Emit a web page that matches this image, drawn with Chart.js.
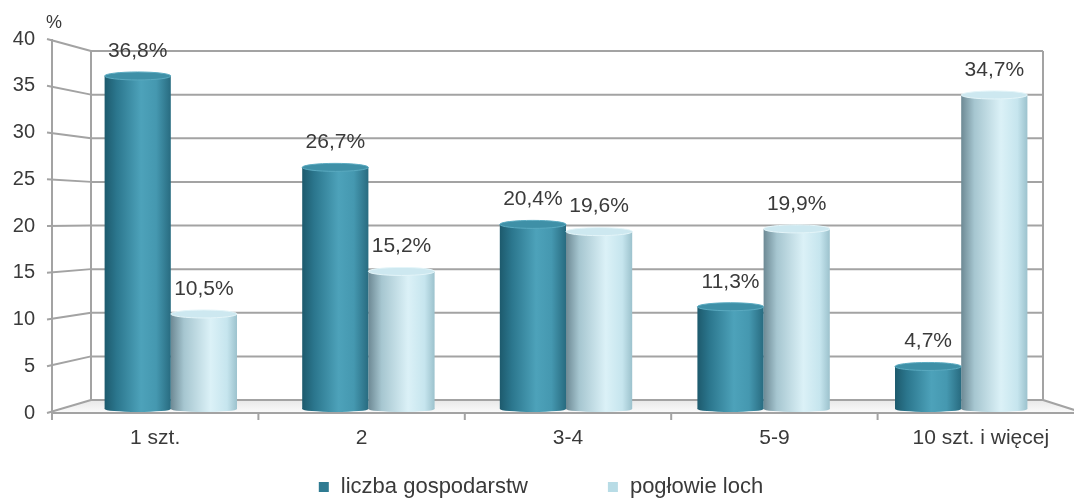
<!DOCTYPE html>
<html>
<head>
<meta charset="utf-8">
<script src="https://cdn.jsdelivr.net/npm/chart.js@4.4.0/dist/chart.umd.min.js"></script>
<style>
  html, body { margin: 0; padding: 0; background: #fff; }
  #wrap { width: 1074px; height: 498px; }
</style>
</head>
<body>
<div id="wrap"><canvas id="myChart"></canvas></div>
<script>
"use strict";

// data
const categories = ["1 szt.", "2", "3-4", "5-9", "10 szt. i więcej"];
const seriesNames = ["liczba gospodarstw", "pogłowie loch"];
const farms = [36.8, 26.7, 20.4, 11.3, 4.7];
const sows = [10.5, 15.2, 19.6, 19.9, 34.7];
const yTicks = [0, 5, 10, 15, 20, 25, 30, 35, 40];

const FONT = "'Liberation Sans', Arial, sans-serif";
const TEXT = "#3a3a3a";
const GRID = "#a3a3a3";
const CAT_PCT = 0.67;

// fake 3d: back wall and front edge as planes around the bar plane
const backPlane = { left: 91, right: 1043, top: 51, bottom: 400 };
const frontPlane = { left: 52, right: 1084, top: 39, bottom: 413 };

const darkStops = [[0, "#1d5a6d"], [0.18, "#2b768d"], [0.55, "#4da2ba"], [0.78, "#4598b0"], [1, "#286b80"]];
const lightStops = [[0, "#6d8994"], [0.2, "#a6c6d0"], [0.6, "#dbf1f7"], [0.85, "#c6e5ee"], [1, "#9cc2cd"]];
const capColors = ["#3f90a7", "#cde8f0"];
const legendColors = ["#2f7b92", "#b8dce6"];

function project(plane, a, px, py) {
  return [
    plane.left + (px - a.left) / a.width * (plane.right - plane.left),
    plane.bottom + (py - a.bottom) / a.height * (plane.bottom - plane.top)
  ];
}

function cylinder(stops) {
  return (c) => {
    const chart = c.chart;
    const a = chart.chartArea;
    if (!a || c.type !== "data" || !chart.scales.x) return stops[2][1];
    const barW = a.width / categories.length * CAT_PCT / 2;
    const center = chart.scales.x.getPixelForValue(c.dataIndex);
    const left = center - barW + c.datasetIndex * barW;
    const g = chart.ctx.createLinearGradient(left, 0, left + barW, 0);
    stops.forEach(([o, col]) => g.addColorStop(o, col));
    return g;
  };
}

function line(ctx, p, q) {
  ctx.beginPath();
  ctx.moveTo(p[0], p[1]);
  ctx.lineTo(q[0], q[1]);
  ctx.stroke();
}

const frame3d = {
  id: "frame3d",
  beforeDatasetsDraw(chart) {
    const { ctx, chartArea: a, scales: { y } } = chart;
    const B = (px, py) => project(backPlane, a, px, py);
    const F = (px, py) => project(frontPlane, a, px, py);
    ctx.save();

    // floor
    const bl = B(a.left, a.bottom), br = B(a.right, a.bottom);
    const fl = F(a.left, a.bottom), fr = F(a.right, a.bottom);
    const g = ctx.createLinearGradient(0, bl[1], 0, fl[1]);
    g.addColorStop(0, "#e8e8e8");
    g.addColorStop(1, "#fbfbfb");
    ctx.fillStyle = g;
    ctx.beginPath();
    ctx.moveTo(bl[0], bl[1]);
    ctx.lineTo(br[0], br[1]);
    ctx.lineTo(fr[0], fr[1]);
    ctx.lineTo(fl[0], fl[1]);
    ctx.closePath();
    ctx.fill();

    ctx.strokeStyle = GRID;
    ctx.lineWidth = 2;
    yTicks.forEach((v) => {
      const py = y.getPixelForValue(v);
      const f0 = F(a.left, py);
      line(ctx, [f0[0] - 5, f0[1]], B(a.left, py));
      line(ctx, B(a.left, py), B(a.right, py));
    });
    line(ctx, B(a.left, a.top), B(a.left, a.bottom));
    line(ctx, B(a.right, a.top), B(a.right, a.bottom));
    const ft = F(a.left, a.top);
    line(ctx, ft, [fl[0], fl[1] + 7]);
    line(ctx, fl, fr);
    line(ctx, br, fr);

    // category ticks on the front edge
    for (let i = 1; i < categories.length; i++) {
      const f = F(a.left + i * a.width / categories.length, a.bottom);
      line(ctx, f, [f[0], f[1] + 7]);
    }

    // rounded cylinder bottoms
    chart.data.datasets.forEach((ds, di) => {
      chart.getDatasetMeta(di).data.forEach((el) => {
        ctx.fillStyle = el.options.backgroundColor;
        ctx.beginPath();
        ctx.ellipse(el.x, el.base, el.width / 2, 3, 0, 0, Math.PI * 2);
        ctx.fill();
      });
    });
    ctx.restore();
  }
};

const caps = {
  id: "caps",
  afterDatasetsDraw(chart) {
    const { ctx } = chart;
    ctx.save();
    chart.data.datasets.forEach((ds, di) => {
      chart.getDatasetMeta(di).data.forEach((el, i) => {
        const r = el.width / 2;
        ctx.fillStyle = capColors[di];
        ctx.beginPath();
        ctx.ellipse(el.x, el.y, r, 4, 0, 0, Math.PI * 2);
        ctx.fill();
        ctx.strokeStyle = di === 0 ? "#5aaac0" : "#e4f5f9";
        ctx.lineWidth = 1;
        ctx.stroke();

        // value label
        ctx.fillStyle = TEXT;
        ctx.font = "21px " + FONT;
        ctx.textAlign = "center";
        ctx.textBaseline = "middle";
        ctx.fillText(ds.data[i].toFixed(1).replace(".", ",") + "%", el.x, el.y - 25);
      });
    });
    ctx.restore();
  }
};

const texts = {
  id: "texts",
  afterDraw(chart) {
    const { ctx, chartArea: a, scales: { x, y } } = chart;
    const F = (px, py) => project(frontPlane, a, px, py);
    ctx.save();
    ctx.fillStyle = TEXT;

    // value axis
    ctx.font = "20px " + FONT;
    ctx.textAlign = "right";
    ctx.textBaseline = "middle";
    yTicks.forEach((v) => {
      const f = F(a.left, y.getPixelForValue(v));
      ctx.fillText(String(v), f[0] - 17, f[1]);
    });
    const top = F(a.left, a.top);
    ctx.font = "18px " + FONT;
    ctx.textAlign = "left";
    ctx.fillText("%", top[0] - 6, top[1] - 16);

    // categories on the front edge
    ctx.font = "21px " + FONT;
    ctx.textAlign = "center";
    categories.forEach((c, i) => {
      const f = F(x.getPixelForValue(i), a.bottom);
      ctx.fillText(c, f[0], f[1] + 25);
    });

    // legend
    ctx.font = "22px " + FONT;
    ctx.textAlign = "left";
    const gap = 80, box = 10;
    const widths = seriesNames.map((n) => box + 12 + ctx.measureText(n).width);
    const total = widths[0] + gap + widths[1];
    let lx = (chart.width - total) / 2 + 4;
    const ly = 487;
    seriesNames.forEach((n, i) => {
      ctx.fillStyle = legendColors[i];
      ctx.fillRect(lx, ly - box / 2, box, box);
      ctx.fillStyle = TEXT;
      ctx.fillText(n, lx + box + 12, ly);
      lx += widths[i] + gap;
    });
    ctx.restore();
  }
};

new Chart(document.getElementById("myChart"), {
  type: "bar",
  data: {
    labels: categories,
    datasets: [
      {
        label: seriesNames[0],
        data: farms,
        backgroundColor: cylinder(darkStops),
        borderWidth: 0,
        categoryPercentage: CAT_PCT,
        barPercentage: 1
      },
      {
        label: seriesNames[1],
        data: sows,
        backgroundColor: cylinder(lightStops),
        borderWidth: 0,
        categoryPercentage: CAT_PCT,
        barPercentage: 1
      }
    ]
  },
  options: {
    responsive: true,
    maintainAspectRatio: false,
    animation: false,
    events: [],
    layout: { padding: { left: 72, right: 14, top: 47, bottom: 89 } },
    scales: {
      x: { display: false },
      y: { display: false, min: 0, max: 40 }
    },
    plugins: {
      legend: { display: false },
      tooltip: { enabled: false }
    }
  },
  plugins: [frame3d, caps, texts]
});
</script>
</body>
</html>
